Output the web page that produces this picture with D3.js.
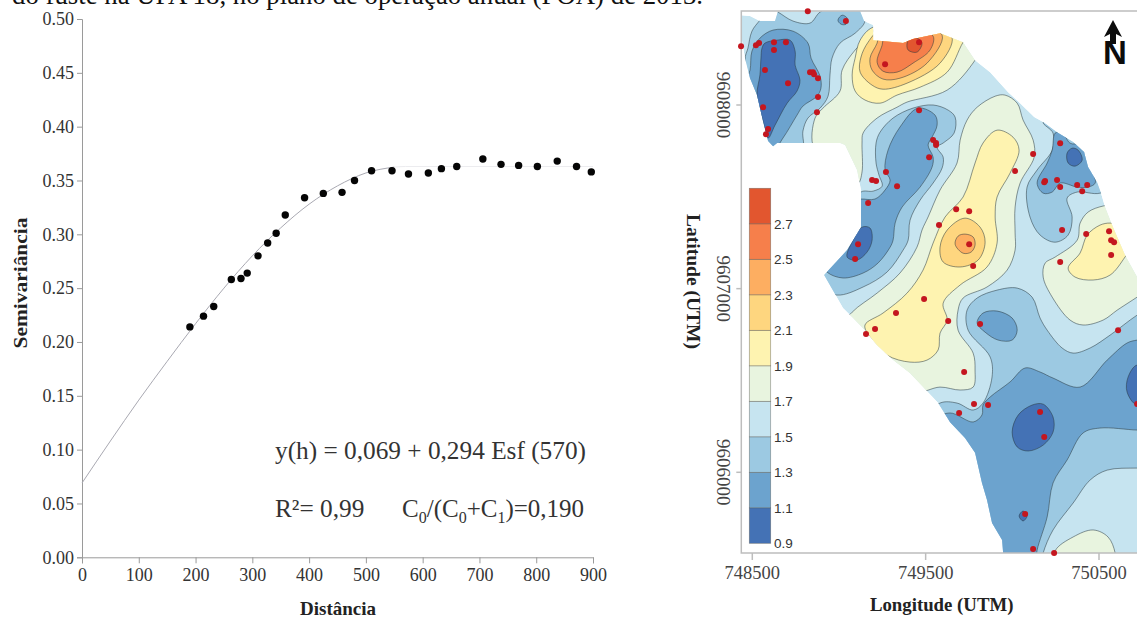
<!DOCTYPE html>
<html>
<head>
<meta charset="utf-8">
<script src="https://cdn.jsdelivr.net/npm/d3@7"></script>
<style>
  html, body { margin: 0; padding: 0; background: #fff; overflow: hidden; }
  svg { display: block; }
  text { font-family: "Liberation Serif", serif; }
</style>
</head>
<body>
<script>
// semivariogram: experimental points
const distances = [190, 214, 232, 263, 280, 291, 310, 327, 342, 358, 392, 425, 458, 480, 510, 546, 575, 610, 633, 660, 706, 738, 769, 802, 837, 871, 897];
const semivariances = [0.214, 0.224, 0.233, 0.258, 0.259, 0.264, 0.280, 0.292, 0.301, 0.318, 0.334, 0.338, 0.339, 0.350, 0.359, 0.359, 0.356, 0.357, 0.361, 0.363, 0.370, 0.365, 0.364, 0.363, 0.368, 0.363, 0.358];

// fitted curve
const fitDistances = [0, 50, 100, 150, 200, 250, 300, 350, 400, 450, 500, 550];
const fitValues = [0.069, 0.108, 0.146, 0.182, 0.217, 0.250, 0.280, 0.306, 0.328, 0.345, 0.357, 0.3625];
// the sill is almost washed out in the picture
const sillDistances = [550, 570, 900];
const sillValues = [0.3625, 0.363, 0.363];

const distanceTicks = [0, 100, 200, 300, 400, 500, 600, 700, 800, 900];
const semivarTicks = [0, 0.05, 0.10, 0.15, 0.20, 0.25, 0.30, 0.35, 0.40, 0.45, 0.50];

// map: legend classes
const legendBreaks = [0.9, 1.1, 1.3, 1.5, 1.7, 1.9, 2.1, 2.3, 2.5, 2.7, 2.9];
const legendLabels = [0.9, 1.1, 1.3, 1.5, 1.7, 1.9, 2.1, 2.3, 2.5, 2.7];
const classColors = ['#4472b5', '#6ca3ce', '#9cc9e2', '#c6e4f0', '#e8f4df', '#fef3b0', '#fed67f', '#fdae61', '#f67f4b', '#e2562f'];

const eastTicks = [748500, 749500, 750500];
const northTicks = [9606000, 9607000, 9608000];

// everything below is metres east of 748500 and north of 9606000
const eastOrigin = 748500;
const northOrigin = 9606000;

const areaOutline = [[-65,2489],[-13,2484],[44,2457],[131,2457],[148,2511],[622,2511],[645,2457],[697,2435],[697,2353],[870,2337],[927,2359],[1083,2391],[1216,2342],[1285,2244],[1372,2179],[1476,2070],[1545,2010],[1626,1934],[1678,1907],[1758,1852],[1851,1798],[1914,1744],[1937,1662],[1989,1580],[2012,1520],[2035,1444],[2081,1335],[2150,1183],[2220,1063],[2300,980],[2300,-439],[1447,-439],[1441,-369],[1383,-276],[1354,-151],[1325,-58],[1285,106],[1227,187],[1141,273],[1072,377],[985,464],[910,540],[812,611],[720,692],[650,774],[581,840],[523,894],[414,1074],[547,1210],[627,1335],[627,1537],[604,1646],[535,1782],[506,1793],[143,1793],[120,1776],[91,1804],[62,1912],[27,2054],[-13,2146],[-42,2255],[-59,2348]];

// 1.7-1.9
const greenNorth = [[691,2391],[593,2299],[518,2190],[506,2076],[408,1983],[362,1929],[356,1765],[506,1673],[610,1575],[633,1635],[633,1793],[639,1847],[720,1929],[835,1988],[893,2016],[1124,2081],[1285,2244],[1343,2353],[1083,2462],[737,2462]];
const greenCentre = [[576,872],[720,976],[852,1085],[950,1226],[979,1319],[1014,1390],[1083,1537],[1181,1684],[1199,1809],[1239,1918],[1297,1988],[1401,2048],[1458,2054],[1528,2010],[1562,1918],[1620,1809],[1626,1716],[1545,1575],[1516,1444],[1516,1303],[1516,1210],[1470,1101],[1354,1009],[1216,949],[1187,883],[1187,774],[1274,649],[1285,557],[1274,464],[1199,448],[1083,464],[939,437],[737,557],[506,774]];
const greenEast = [[2024,1450],[1937,1417],[1891,1357],[1874,1264],[1747,1172],[1689,1139],[1678,1063],[1730,954],[1833,829],[1908,802],[2024,829],[2105,883],[2220,954],[2324,1020],[2324,1264],[2093,1455]];
const greenSouth = [[1747,-428],[1851,-352],[1966,-314],[2052,-352],[2093,-439],[2093,-532],[1747,-532]];

// 1.9-2.1
const yellowNorth = [[697,2424],[622,2353],[593,2255],[576,2163],[593,2076],[650,2027],[737,2010],[835,2054],[968,2097],[1124,2179],[1216,2342],[1285,2435],[968,2435]];
const yellowCentre = [[650,802],[754,867],[893,976],[985,1101],[1043,1248],[1112,1390],[1216,1499],[1285,1684],[1331,1793],[1412,1863],[1504,1825],[1539,1754],[1487,1629],[1412,1499],[1401,1390],[1412,1248],[1354,1118],[1199,1020],[1101,921],[1124,829],[1083,758],[1072,666],[1008,611],[910,600],[777,638],[679,736]];
const yellowEast = [[2064,1357],[2006,1346],[1932,1292],[1891,1194],[1822,1112],[1862,1063],[1966,1047],[2064,1074],[2150,1172],[2208,1264],[2110,1346]];

// 2.1 and up
const peak21North = [[668,2342],[627,2261],[622,2179],[691,2108],[754,2086],[893,2119],[1083,2228],[1152,2369],[1025,2435],[737,2408]];
const peak23North = [[720,2337],[679,2255],[691,2190],[754,2141],[852,2146],[1008,2228],[1095,2380],[910,2435],[737,2397]];
const peak25North = [[749,2326],[720,2233],[754,2184],[835,2179],[927,2228],[1025,2299],[1043,2375],[910,2419],[766,2391]];
const peak27North = [[893,2337],[899,2299],[951,2288],[979,2337],[951,2364],[910,2364]];
const peak21Centre = [[1227,1384],[1314,1335],[1343,1253],[1303,1156],[1199,1118],[1101,1145],[1083,1226],[1124,1319]];
const peak23Centre = [[1170,1242],[1187,1286],[1227,1297],[1274,1281],[1285,1237],[1262,1199],[1216,1193]];

// 1.3-1.5
const blue13West = [[148,2506],[235,2457],[333,2446],[391,2506],[506,2549],[622,2527],[650,2457],[593,2391],[506,2337],[460,2255],[448,2163],[437,2048],[391,1983],[321,1929],[292,1858],[287,1754],[102,1727],[-42,2244],[-25,2310],[-2,2402],[44,2462],[102,2527]];
const blue13Centre = [[627,1526],[697,1531],[749,1558],[731,1618],[714,1684],[714,1793],[737,1852],[812,1929],[927,1983],[1043,2000],[1130,1972],[1170,1934],[1164,1847],[1101,1793],[1066,1771],[1101,1716],[1095,1657],[1043,1575],[968,1482],[910,1373],[899,1264],[870,1210],[777,1090],[639,1009],[489,965],[362,1020],[448,1183],[564,1400]];
const blue13South = [[1297,949],[1412,992],[1528,1003],[1614,954],[1660,840],[1701,774],[1787,677],[1851,649],[1949,677],[2064,747],[2220,856],[2324,911],[2324,23],[2220,23],[2047,12],[1949,-42],[1851,-167],[1735,-314],[1678,-439],[1660,-532],[1429,-532],[996,284],[1083,377],[1181,377],[1274,339],[1331,377],[1383,519],[1372,628],[1245,774],[1239,883]];
const blue13East = [[1678,1907],[1735,1847],[1730,1754],[1643,1646],[1585,1553],[1602,1390],[1660,1292],[1747,1253],[1822,1292],[1845,1390],[1816,1493],[1874,1526],[2006,1520],[2122,1591],[1891,1945]];

// 1.1-1.3
const blue11West = [[-13,2190],[-2,2293],[44,2364],[120,2408],[235,2402],[321,2337],[339,2255],[391,2157],[396,2092],[373,2048],[292,1994],[258,1945],[177,1820],[120,1754],[16,1918],[-42,2108]];
const blue11Lobe = [[494,2462],[518,2489],[547,2473],[541,2440],[512,2440]];
const blue11Centre = [[627,1488],[708,1488],[766,1537],[795,1591],[766,1646],[783,1754],[852,1880],[956,1983],[1054,1945],[1066,1890],[1037,1825],[1014,1782],[1043,1716],[1037,1662],[968,1553],[864,1444],[824,1357],[812,1264],[795,1226],[725,1139],[639,1085],[523,1058],[431,1090],[391,1156],[535,1292],[593,1482]];
const blue11Island = [[1297,813],[1331,867],[1412,878],[1499,840],[1528,774],[1499,720],[1418,720],[1343,763]];
const blue11South = [[1141,323],[1274,274],[1325,312],[1331,366],[1372,410],[1487,492],[1574,568],[1660,546],[1735,513],[1891,464],[2047,611],[2162,704],[2220,720],[2324,731],[2324,230],[2220,230],[2006,241],[1908,214],[1816,67],[1735,-58],[1701,-243],[1643,-423],[1631,-505],[1429,-532],[1025,12],[1054,284]];
const blue11East = [[1747,1847],[1787,1852],[1833,1792],[1891,1782],[1960,1646],[1978,1575],[1937,1553],[1874,1553],[1776,1575],[1730,1526],[1678,1520],[1643,1575],[1701,1684],[1730,1754]];

// 0.9-1.1
const blue09West = [[56,2310],[73,2337],[143,2353],[218,2353],[247,2293],[247,2217],[275,2135],[258,2076],[201,2010],[131,1890],[91,1820],[62,1912],[27,2054],[44,2163],[50,2255]];
const blue09Centre = [[633,1335],[679,1330],[691,1264],[662,1199],[604,1156],[547,1172],[581,1264]];
const blue09South = [[1499,219],[1534,312],[1614,366],[1678,371],[1735,301],[1735,219],[1678,148],[1591,116],[1528,138]];
const blue09Edge = [[2220,584],[2168,519],[2162,437],[2220,366],[2324,421],[2324,530]];
const blue09Spot = [[1539,-238],[1562,-211],[1585,-238],[1562,-265]];
const blue09East = [[1816,1738],[1845,1765],[1880,1754],[1903,1700],[1862,1667],[1822,1684]];

const samplePoints = [[320,2511],[540,2457],[-65,2320],[21,2326],[39,2337],[125,2342],[194,2342],[125,2299],[962,2342],[766,2222],[73,2190],[206,2119],[333,2179],[350,2179],[356,2168],[379,2146],[379,2043],[62,1988],[373,1961],[91,1869],[79,1841],[962,1972],[1043,1809],[1060,1793],[1060,1782],[1020,1716],[1620,1733],[1776,1792],[1516,1640],[771,1635],[691,1591],[714,1586],[835,1558],[1689,1586],[1684,1580],[1758,1591],[1776,1553],[1874,1564],[1932,1564],[1903,1531],[668,1466],[1176,1433],[1251,1422],[1077,1346],[1787,1319],[1926,1297],[2058,1313],[2070,1264],[2087,1253],[610,1242],[1251,1242],[593,1161],[2070,1183],[1776,1145],[1274,1123],[991,944],[829,867],[1130,824],[1314,807],[708,780],[656,753],[2110,774],[1222,546],[1279,372],[1360,366],[1193,323],[1660,328],[1684,192],[2220,372],[1574,-227],[1620,-418],[1741,-439]];

// paint order: class index into classColors, outline
const mapLayers = [
  [4, greenNorth], [4, greenCentre], [4, greenEast], [4, greenSouth],
  [5, yellowNorth], [5, yellowCentre], [5, yellowEast],
  [6, peak21North], [7, peak23North], [8, peak25North], [9, peak27North],
  [6, peak21Centre], [7, peak23Centre],
  [2, blue13West], [2, blue13Centre], [2, blue13South], [2, blue13East],
  [1, blue11West], [1, blue11Lobe], [1, blue11Centre], [1, blue11Island], [1, blue11South], [1, blue11East],
  [0, blue09West], [0, blue09Centre], [0, blue09South], [0, blue09Edge], [0, blue09Spot], [0, blue09East]
];

const width = 1137, height = 619;
const svg = d3.select('body').append('svg').attr('width', width).attr('height', height);

// clipped line of running text above the figure
svg.append('text')
  .attr('x', 12).attr('y', 4)
  .attr('font-size', 27).attr('fill', '#111')
  .attr('textLength', 691).attr('lengthAdjust', 'spacingAndGlyphs')
  .text('do fuste na UPA 18, no plano de operação anual (POA) de 2013.');

/* ---------- semivariogram ---------- */
const x = d3.scaleLinear().domain([0, 900]).range([82, 593]);
const y = d3.scaleLinear().domain([0, 0.5]).range([557.3, 19]);

const axisX = svg.append('g')
  .attr('transform', `translate(0,${y(0)})`)
  .call(d3.axisBottom(x).tickValues(distanceTicks).tickSize(6).tickPadding(5).tickFormat(d3.format('d')));
const axisY = svg.append('g')
  .attr('transform', `translate(${x(0)},0)`)
  .call(d3.axisLeft(y).tickValues(semivarTicks).tickSize(5).tickPadding(3).tickFormat(d3.format('.2f')));

[axisX, axisY].forEach(function(ax) {
  ax.selectAll('path, line').attr('stroke', '#9a9a9a').attr('stroke-width', 1);
  ax.selectAll('text').attr('font-size', 18).attr('fill', '#333')
    .attr('font-family', '"Liberation Serif", serif');
});

const fitLine = d3.line().x(d => x(d[0])).y(d => y(d[1])).curve(d3.curveMonotoneX);
svg.append('path')
  .attr('d', fitLine(d3.zip(fitDistances, fitValues)))
  .attr('fill', 'none').attr('stroke', '#a9a9b2').attr('stroke-width', 1);
svg.append('path')
  .attr('d', fitLine(d3.zip(sillDistances, sillValues)))
  .attr('fill', 'none').attr('stroke', '#ececef').attr('stroke-width', 1);

svg.append('g').selectAll('circle')
  .data(d3.zip(distances, semivariances))
  .join('circle')
  .attr('cx', d => x(d[0])).attr('cy', d => y(d[1])).attr('r', 3.7)
  .attr('fill', '#050505');

svg.append('text')
  .attr('x', 338).attr('y', 615).attr('text-anchor', 'middle')
  .attr('font-size', 19).attr('font-weight', 'bold').attr('fill', '#222')
  .text('Distância');
svg.append('text')
  .attr('transform', 'translate(27,283) rotate(-90)').attr('text-anchor', 'middle')
  .attr('font-size', 19).attr('font-weight', 'bold').attr('fill', '#222')
  .attr('textLength', 131).attr('lengthAdjust', 'spacingAndGlyphs')
  .text('Semivariância');

svg.append('text')
  .attr('x', 275).attr('y', 459).attr('font-size', 25.3).attr('fill', '#333')
  .text('y(h) = 0,069 + 0,294 Esf (570)');
svg.append('text')
  .attr('x', 275).attr('y', 517).attr('font-size', 25.3).attr('fill', '#333')
  .text('R²= 0,99');

const ratio = svg.append('text')
  .attr('x', 402).attr('y', 517).attr('font-size', 25).attr('fill', '#333');
[['C', 0], ['0', 6], ['/(C', -6], ['0', 6], ['+C', -6], ['1', 6], [')=0,190', -6]].forEach(function(part) {
  ratio.append('tspan')
    .attr('dy', part[1])
    .attr('font-size', part[1] > 0 ? 16 : 25)
    .text(part[0]);
});

/* ---------- contour map ---------- */
const mapX = d3.scaleLinear().domain([748500, 750500]).range([752.3, 1099]);
const mapY = d3.scaleLinear().domain([9606000, 9608000]).range([472.3, 105]);
const px = p => mapX(eastOrigin + p[0]);
const py = p => mapY(northOrigin + p[1]);

const smooth = d3.line().x(px).y(py).curve(d3.curveCatmullRomClosed.alpha(0.5));
const straight = d3.line().x(px).y(py).curve(d3.curveLinearClosed);

svg.append('clipPath').attr('id', 'area-clip')
  .append('path').attr('d', straight(areaOutline));

const mapG = svg.append('g').attr('clip-path', 'url(#area-clip)');
mapG.append('path').attr('d', straight(areaOutline)).attr('fill', classColors[3]);
mapG.selectAll('path.band')
  .data(mapLayers)
  .join('path')
  .attr('class', 'band')
  .attr('d', d => smooth(d[1]))
  .attr('fill', d => classColors[d[0]])
  .attr('stroke', '#2b3a40')
  .attr('stroke-opacity', 0.75)
  .attr('stroke-width', 0.7);

// frame and ticks
const frameLeft = 741.3, frameTop = 11, frameBottom = 553;
const frame = svg.append('g').attr('fill', 'none').attr('stroke', '#bdbdbd').attr('stroke-width', 1.5);
frame.append('path').attr('d', `M${width},${frameTop}H${frameLeft}V${frameBottom}H${width}`);
frame.selectAll('line.tx').data(eastTicks).join('line').attr('class', 'tx')
  .attr('x1', d => mapX(d)).attr('x2', d => mapX(d)).attr('y1', frameBottom).attr('y2', frameBottom + 7);
frame.selectAll('line.ty').data(northTicks).join('line').attr('class', 'ty')
  .attr('x1', frameLeft - 5).attr('x2', frameLeft).attr('y1', d => mapY(d)).attr('y2', d => mapY(d));

svg.append('g').selectAll('text').data(eastTicks).join('text')
  .attr('x', d => mapX(d)).attr('y', 579).attr('text-anchor', 'middle')
  .attr('font-size', 18.5).attr('fill', '#444').text(d => d);
svg.append('g').selectAll('text').data(northTicks).join('text')
  .attr('transform', d => `translate(716.5,${mapY(d)}) rotate(90)`).attr('text-anchor', 'middle')
  .attr('font-size', 19).attr('fill', '#444').text(d => d);

svg.append('text')
  .attr('x', 941.7).attr('y', 611).attr('text-anchor', 'middle')
  .attr('font-size', 18.8).attr('font-weight', 'bold').attr('fill', '#222')
  .text('Longitude (UTM)');
svg.append('text')
  .attr('transform', 'translate(687,281.5) rotate(90)').attr('text-anchor', 'middle')
  .attr('font-size', 19.5).attr('font-weight', 'bold').attr('fill', '#222')
  .text('Latitude (UTM)');

// sample locations
svg.append('g').selectAll('circle').data(samplePoints).join('circle')
  .attr('cx', px).attr('cy', py).attr('r', 3).attr('fill', '#c4161f');

// legend
const legendY = d3.scaleLinear().domain([0.9, 2.9]).range([543.3, 188.3]);
const legendG = svg.append('g');
legendG.selectAll('rect').data(d3.pairs(legendBreaks)).join('rect')
  .attr('x', 749.3).attr('width', 21.4)
  .attr('y', d => legendY(d[1])).attr('height', d => legendY(d[0]) - legendY(d[1]))
  .attr('fill', (d, i) => classColors[i])
  .attr('stroke', '#5a5a55').attr('stroke-opacity', 0.6).attr('stroke-width', 0.7);
legendG.selectAll('text').data(legendLabels).join('text')
  .attr('x', 774).attr('y', d => legendY(d) + 5)
  .attr('font-size', 13.5).attr('fill', '#333')
  .style('font-family', '"Liberation Sans", sans-serif')
  .text(d => d.toFixed(1));

// north arrow
const north = svg.append('g');
north.append('path')
  .attr('d', 'M1113,20L1122,37L1116,34V44H1110V34L1104,37Z')
  .attr('fill', '#0c0c0c');
north.append('text')
  .attr('x', 1115).attr('y', 64).attr('text-anchor', 'middle')
  .attr('font-size', 33).attr('font-weight', 'bold').attr('fill', '#0c0c0c')
  .style('font-family', '"Liberation Sans", sans-serif')
  .text('N');
</script>
</body>
</html>
